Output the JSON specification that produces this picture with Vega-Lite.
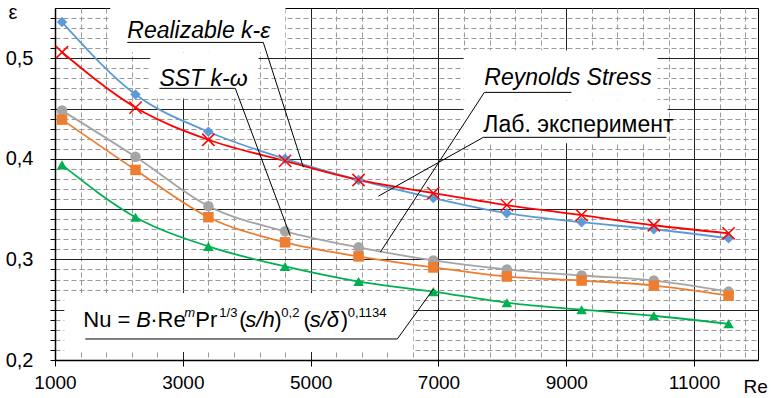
{
  "$schema": "https://vega.github.io/schema/vega-lite/v6.json",
  "width": 703,
  "height": 352,
  "autosize": "none",
  "padding": {"left": 55, "top": 8, "right": 13, "bottom": 38},
  "config": {
    "view": {"stroke": "#000", "strokeWidth": 1},
    "font": "Liberation Sans"
  },
  "datasets": {
    "series": [
      {"s": "Лаб. эксперимент", "x": 1110, "y": 0.536}, {"s": "Лаб. эксперимент", "x": 2260, "y": 0.464}, {"s": "Лаб. эксперимент", "x": 3400, "y": 0.427}, {"s": "Лаб. эксперимент", "x": 4600, "y": 0.400}, {"s": "Лаб. эксперимент", "x": 5750, "y": 0.379}, {"s": "Лаб. эксперимент", "x": 6920, "y": 0.361}, {"s": "Лаб. эксперимент", "x": 8070, "y": 0.346}, {"s": "Лаб. эксперимент", "x": 9240, "y": 0.337}, {"s": "Лаб. эксперимент", "x": 10370, "y": 0.330}, {"s": "Лаб. эксперимент", "x": 11540, "y": 0.321},
      {"s": "Realizable k-ε", "x": 1110, "y": 0.506}, {"s": "Realizable k-ε", "x": 2260, "y": 0.451}, {"s": "Realizable k-ε", "x": 3400, "y": 0.419}, {"s": "Realizable k-ε", "x": 4600, "y": 0.398}, {"s": "Realizable k-ε", "x": 5750, "y": 0.379}, {"s": "Realizable k-ε", "x": 6920, "y": 0.366}, {"s": "Realizable k-ε", "x": 8070, "y": 0.354}, {"s": "Realizable k-ε", "x": 9240, "y": 0.344}, {"s": "Realizable k-ε", "x": 10370, "y": 0.334}, {"s": "Realizable k-ε", "x": 11540, "y": 0.326},
      {"s": "Reynolds Stress", "x": 1110, "y": 0.448}, {"s": "Reynolds Stress", "x": 2260, "y": 0.402}, {"s": "Reynolds Stress", "x": 3400, "y": 0.353}, {"s": "Reynolds Stress", "x": 4600, "y": 0.328}, {"s": "Reynolds Stress", "x": 5750, "y": 0.312}, {"s": "Reynolds Stress", "x": 6920, "y": 0.299}, {"s": "Reynolds Stress", "x": 8070, "y": 0.290}, {"s": "Reynolds Stress", "x": 9240, "y": 0.284}, {"s": "Reynolds Stress", "x": 10370, "y": 0.279}, {"s": "Reynolds Stress", "x": 11540, "y": 0.268},
      {"s": "SST k-ω", "x": 1110, "y": 0.439}, {"s": "SST k-ω", "x": 2260, "y": 0.389}, {"s": "SST k-ω", "x": 3400, "y": 0.342}, {"s": "SST k-ω", "x": 4600, "y": 0.317}, {"s": "SST k-ω", "x": 5750, "y": 0.303}, {"s": "SST k-ω", "x": 6920, "y": 0.292}, {"s": "SST k-ω", "x": 8070, "y": 0.283}, {"s": "SST k-ω", "x": 9240, "y": 0.279}, {"s": "SST k-ω", "x": 10370, "y": 0.274}, {"s": "SST k-ω", "x": 11540, "y": 0.264},
      {"s": "Nu", "x": 1110, "y": 0.394}, {"s": "Nu", "x": 2260, "y": 0.342}, {"s": "Nu", "x": 3400, "y": 0.313}, {"s": "Nu", "x": 4600, "y": 0.293}, {"s": "Nu", "x": 5750, "y": 0.278}, {"s": "Nu", "x": 6920, "y": 0.268}, {"s": "Nu", "x": 8070, "y": 0.257}, {"s": "Nu", "x": 9240, "y": 0.250}, {"s": "Nu", "x": 10370, "y": 0.244}, {"s": "Nu", "x": 11540, "y": 0.236}
    ],
    "boxes": [
      {"x": 1865, "x2": 4604, "y": 0.55, "y2": 0.506},
      {"x": 2490, "x2": 4184, "y": 0.506, "y2": 0.460},
      {"x": 7393, "x2": 10429, "y": 0.508, "y2": 0.458},
      {"x": 7393, "x2": 10585, "y": 0.458, "y2": 0.4155},
      {"x": 1146, "x2": 6607, "y": 0.2665, "y2": 0.208}
    ],
    "rules": [
      {"x": 2131, "x2": 4259, "y": 0.5158, "y2": 0.5158},
      {"x": 4259, "x2": 4886, "y": 0.5158, "y2": 0.3917},
      {"x": 2634, "x2": 3821, "y": 0.4701, "y2": 0.4701},
      {"x": 3821, "x2": 4683, "y": 0.4701, "y2": 0.3231},
      {"x": 7718, "x2": 9080, "y": 0.4661, "y2": 0.4661},
      {"x": 7718, "x2": 6090, "y": 0.4661, "y2": 0.3072},
      {"x": 7702, "x2": 10566, "y": 0.4214, "y2": 0.4214},
      {"x": 7702, "x2": 6060, "y": 0.4214, "y2": 0.3629},
      {"x": 1474, "x2": 6356, "y": 0.2209, "y2": 0.2209},
      {"x": 6356, "x2": 6920, "y": 0.2209, "y2": 0.2705}
    ],
    "italicLabels": [
      {"t": "Realizable k-ε", "x": 2131, "y": 0.5198},
      {"t": "SST k-ω", "x": 2634, "y": 0.4721},
      {"t": "Reynolds Stress", "x": 7718, "y": 0.4731}
    ],
    "normalLabels": [
      {"t": "Лаб. эксперимент", "x": 7702, "y": 0.4264}
    ],
    "formulaNormal": [
      {"t": "Nu =", "x": 1443, "y": 0.2328},
      {"t": "·Re", "x": 2491, "y": 0.2328},
      {"t": "Pr", "x": 3196, "y": 0.2328},
      {"t": "(", "x": 3884, "y": 0.2328},
      {"t": ")", "x": 4432, "y": 0.2328},
      {"t": "(", "x": 4890, "y": 0.2328},
      {"t": ")", "x": 5470, "y": 0.2328}
    ],
    "formulaItalic": [
      {"t": "B", "x": 2272, "y": 0.2328},
      {"t": "s/h", "x": 3978, "y": 0.2328},
      {"t": "s/δ", "x": 4985, "y": 0.2328}
    ],
    "supNormal": [
      {"t": "1/3", "x": 3571, "y": 0.2427},
      {"t": "0,2", "x": 4541, "y": 0.2427},
      {"t": "0,1134", "x": 5580, "y": 0.2427}
    ],
    "supItalic": [
      {"t": "m", "x": 3023, "y": 0.2427}
    ]
  },
  "encoding": {
    "x": {
      "field": "x",
      "type": "quantitative",
      "scale": {"domain": [1000, 12000], "nice": false, "zero": false},
      "axis": {
        "title": "Re",
        "titleX": 688,
        "titleY": 32,
        "titleAlign": "left",
        "titleBaseline": "alphabetic",
        "titleFontSize": 19,
        "titleFontWeight": "normal",
        "titleColor": "#000",
        "values": [1000, 1400, 1800, 2200, 2600, 3000, 3400, 3800, 4200, 4600, 5000, 5400, 5800, 6200, 6600, 7000, 7400, 7800, 8200, 8600, 9000, 9400, 9800, 10200, 10600, 11000, 11400, 11800],
        "labelExpr": "(datum.value - 1000) % 2000 === 0 ? format(datum.value, 'd') : ''",
        "labelOverlap": false,
        "labelFlush": false,
        "labelFontSize": 19,
        "labelColor": "#000",
        "labelPadding": 7,
        "tickSize": {"condition": {"test": "(datum.value - 1000) % 2000 === 0", "value": 6}, "value": 0},
        "tickColor": "#000",
        "domainColor": "#000",
        "domainWidth": 1.5,
        "grid": true,
        "gridColor": {"condition": {"test": "(datum.value - 1000) % 2000 === 0", "value": "#222"}, "value": "#999"},
        "gridDash": {"condition": {"test": "(datum.value - 1000) % 2000 === 0", "value": []}, "value": [5, 3]},
        "gridOpacity": 1,
        "gridWidth": 1
      }
    },
    "y": {
      "field": "y",
      "type": "quantitative",
      "scale": {"domain": [0.2, 0.55], "nice": false, "zero": false},
      "axis": {
        "title": "ε",
        "titleAngle": 0,
        "titleX": -47,
        "titleY": 10,
        "titleAlign": "left",
        "titleBaseline": "alphabetic",
        "titleFontSize": 20,
        "titleFontWeight": "normal",
        "titleColor": "#000",
        "values": [0.2, 0.21, 0.22, 0.23, 0.24, 0.25, 0.26, 0.27, 0.28, 0.29, 0.3, 0.31, 0.32, 0.33, 0.34, 0.35, 0.36, 0.37, 0.38, 0.39, 0.4, 0.41, 0.42, 0.43, 0.44, 0.45, 0.46, 0.47, 0.48, 0.49, 0.5, 0.51, 0.52, 0.53, 0.54],
        "labelExpr": "abs(datum.value * 10 - round(datum.value * 10)) < 0.001 ? replace(format(datum.value, '.1f'), '.', ',') : ''",
        "labelOverlap": false,
        "labelFlush": false,
        "labelFontSize": 20,
        "labelColor": "#000",
        "labelPadding": 17,
        "tickSize": 5,
        "tickColor": "#000",
        "domainColor": "#000",
        "domainWidth": 1.5,
        "grid": true,
        "gridColor": {"condition": {"test": "abs(datum.value * 20 - round(datum.value * 20)) < 0.001", "value": "#222"}, "value": "#999"},
        "gridDash": {"condition": {"test": "abs(datum.value * 20 - round(datum.value * 20)) < 0.001", "value": []}, "value": [5, 3]},
        "gridOpacity": 1,
        "gridWidth": 1
      }
    }
  },
  "layer": [
    {
      "data": {"name": "boxes"},
      "mark": {"type": "rect", "fill": "#fff", "stroke": null},
      "encoding": {"x2": {"field": "x2"}, "y2": {"field": "y2"}}
    },
    {
      "data": {"name": "series"},
      "mark": {"type": "line", "interpolate": "monotone", "strokeWidth": 1.8},
      "encoding": {
        "color": {"field": "s", "type": "nominal", "legend": null,
          "scale": {"domain": ["Лаб. эксперимент", "Realizable k-ε", "Reynolds Stress", "SST k-ω", "Nu"], "range": ["#5B9BD5", "#FF0000", "#A5A5A5", "#ED7D31", "#00B050"]}},
        "detail": {"field": "s"}
      }
    },
    {
      "data": {"name": "series"},
      "transform": [{"filter": "datum.s !== 'Realizable k-ε'"}],
      "mark": {"type": "point", "filled": true, "opacity": 1, "size": 110},
      "encoding": {
        "color": {"field": "s", "type": "nominal", "legend": null,
          "scale": {"domain": ["Лаб. эксперимент", "Realizable k-ε", "Reynolds Stress", "SST k-ω", "Nu"], "range": ["#5B9BD5", "#FF0000", "#A5A5A5", "#ED7D31", "#00B050"]}},
        "shape": {"field": "s", "type": "nominal", "legend": null,
          "scale": {"domain": ["Лаб. эксперимент", "Reynolds Stress", "SST k-ω", "Nu"], "range": ["diamond", "circle", "square", "triangle-up"]}}
      }
    },
    {
      "data": {"name": "series"},
      "transform": [{"filter": "datum.s === 'Realizable k-ε'"}],
      "mark": {"type": "point", "filled": false, "opacity": 1, "size": 150, "stroke": "#FF0000", "strokeWidth": 1.5, "shape": "M-1,-1L1,1M-1,1L1,-1"},
      "encoding": {}
    },
    {
      "data": {"name": "rules"},
      "mark": {"type": "rule", "color": "#000", "strokeWidth": 1},
      "encoding": {"x2": {"field": "x2"}, "y2": {"field": "y2"}}
    },
    {
      "data": {"name": "italicLabels"},
      "mark": {"type": "text", "align": "left", "baseline": "alphabetic", "fontSize": 23, "fontStyle": "italic", "color": "#000"},
      "encoding": {"text": {"field": "t"}}
    },
    {
      "data": {"name": "normalLabels"},
      "mark": {"type": "text", "align": "left", "baseline": "alphabetic", "fontSize": 23, "color": "#000"},
      "encoding": {"text": {"field": "t"}}
    },
    {
      "data": {"name": "formulaNormal"},
      "mark": {"type": "text", "align": "left", "baseline": "alphabetic", "fontSize": 22, "color": "#000"},
      "encoding": {"text": {"field": "t"}}
    },
    {
      "data": {"name": "formulaItalic"},
      "mark": {"type": "text", "align": "left", "baseline": "alphabetic", "fontSize": 22, "fontStyle": "italic", "color": "#000"},
      "encoding": {"text": {"field": "t"}}
    },
    {
      "data": {"name": "supNormal"},
      "mark": {"type": "text", "align": "left", "baseline": "alphabetic", "fontSize": 13, "color": "#000"},
      "encoding": {"text": {"field": "t"}}
    },
    {
      "data": {"name": "supItalic"},
      "mark": {"type": "text", "align": "left", "baseline": "alphabetic", "fontSize": 13, "fontStyle": "italic", "color": "#000"},
      "encoding": {"text": {"field": "t"}}
    }
  ]
}
